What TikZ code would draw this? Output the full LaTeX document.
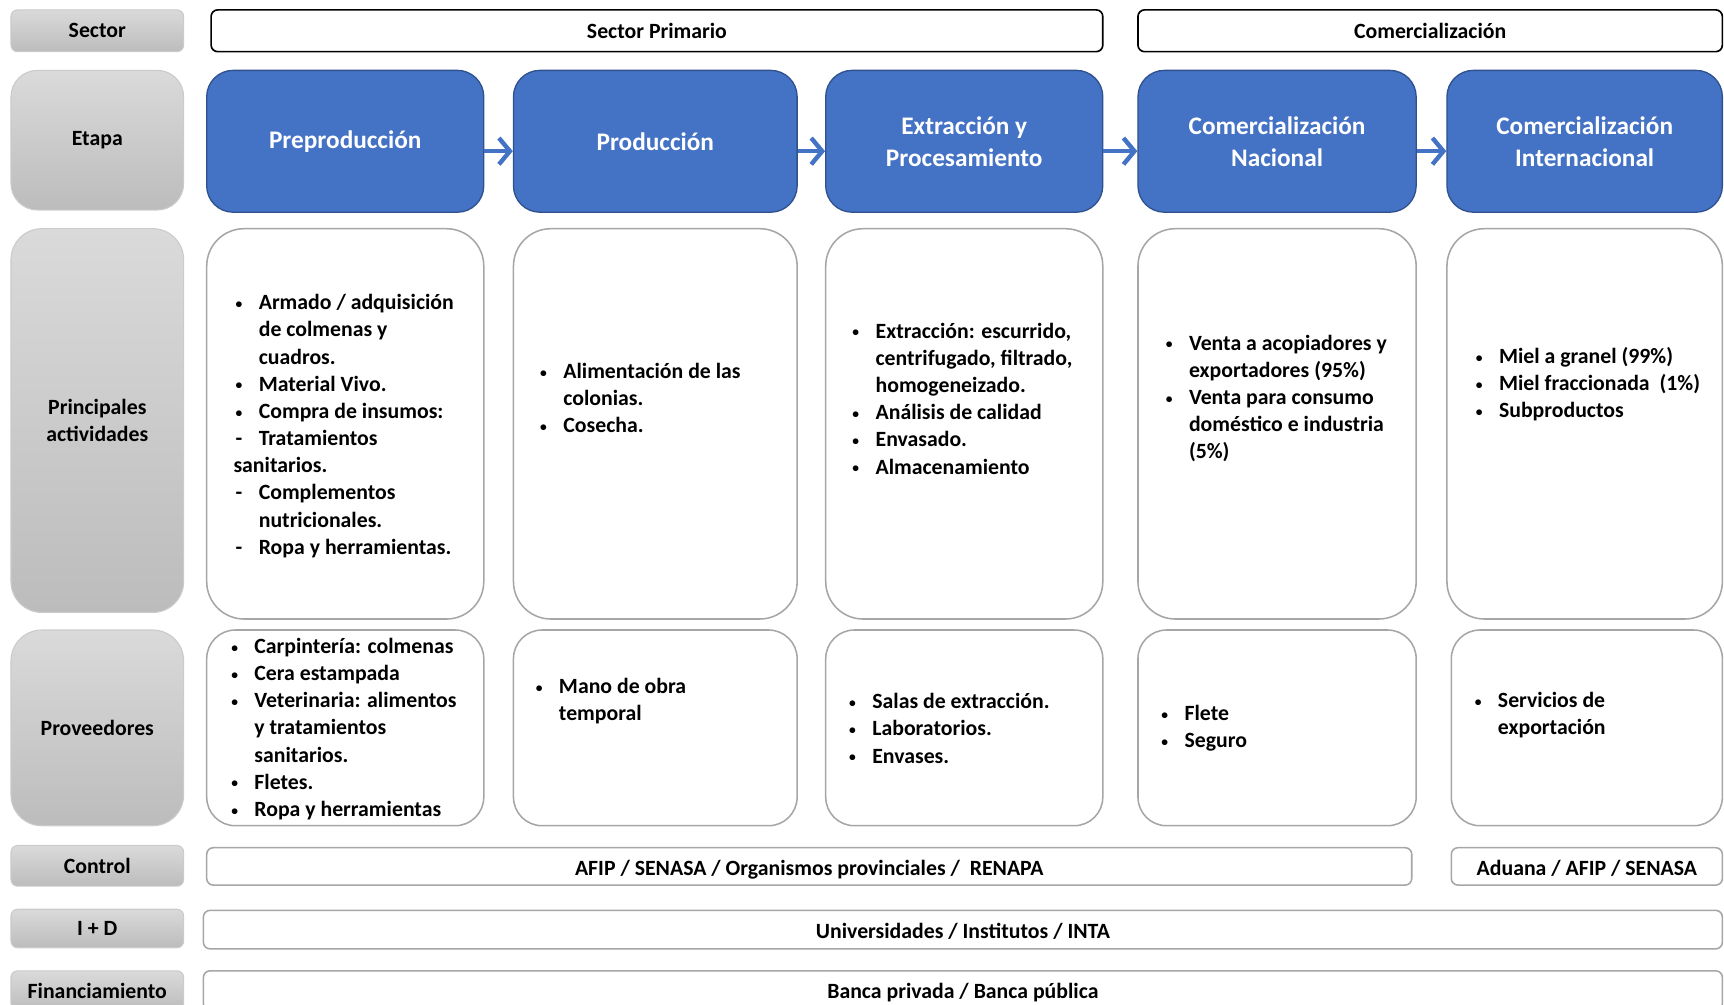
\documentclass[tikz,border=0pt]{standalone}
\usepackage{fontspec}
\usepackage{graphicx}
\setmainfont{Carlito}
\usetikzlibrary{arrows.meta}
\definecolor{blu}{HTML}{4472C4}
\definecolor{bluedge}{HTML}{2F528F}
\definecolor{boxedge}{HTML}{A6A6A6}
\definecolor{gtop}{HTML}{DADADA}
\definecolor{gbot}{HTML}{BCBCBC}
\definecolor{gedge}{HTML}{CBCBCB}
\newcommand{\bu}{\makebox[11.5pt][l]{\makebox[5pt]{\raisebox{0.6pt}{\scalebox{0.62}{•}}}}}
\newcommand{\da}{\makebox[11.5pt][l]{\makebox[5pt]{-}}}
\newcommand{\ind}{\hspace*{11.5pt}}
\newcommand{\mkbox}[7]{\node[#2, minimum width={(#5-#3)*0.5pt}, minimum height={(#6-#4)*0.5pt}] (#1) at ({(#3+#5)/2},{(#4+#6)/2}) {#7};}
\begin{document}
\begin{tikzpicture}[x=0.5pt,y=-0.5pt,
  every node/.style={font=\bfseries\fontsize{9.9pt}{12.35pt}\selectfont, text=black},
  lbl/.style={draw=gedge, line width=0.5pt, top color=gtop, bottom color=gbot, rounded corners=#1, inner sep=0pt, align=center},
  lbl/.default=3pt,
  stage/.style={draw=bluedge, line width=0.6pt, fill=blu, text=white, rounded corners=12pt, align=center, font=\bfseries\fontsize{11.5pt}{14.5pt}\selectfont},
  card/.style={draw=boxedge, line width=0.7pt, fill=white, rounded corners=#1},
  card/.default=17pt,
  sect/.style={draw=black, line width=0.75pt, fill=white, rounded corners=3pt, align=center, inner sep=0pt},
  bar/.style={draw=boxedge, line width=0.7pt, fill=white, rounded corners=3pt, align=center, inner sep=0pt, text height=#1, text depth=0.5pt},
  bar/.default=8pt,
  list/.style={anchor=west, align=left, inner sep=0pt},
  flow/.style={draw=blu, line width=2pt, -{Straight Barb[length=5pt,width=12pt]}}
]
\useasboundingbox (0,0) rectangle (1568,914);
\clip (0,0) rectangle (1568,914);

% row labels
\mkbox{lsec}{lbl}{10}{9}{167}{47}{Sector}
\mkbox{leta}{lbl=12pt}{10}{64}{167}{191}{Etapa}
\mkbox{lact}{lbl=14pt}{10}{208}{167}{557}{Principales\\actividades}
\mkbox{lpro}{lbl=14pt}{10}{573}{167}{751}{Proveedores}
\mkbox{lcon}{lbl}{10}{769}{167}{806}{Control}
\mkbox{lid}{lbl}{10}{827}{167}{862}{I + D}
\mkbox{lfin}{lbl}{10}{883}{167}{919}{Financiamiento}

% sector
\mkbox{sp}{sect}{192}{9}{1003}{47}{Sector Primario}
\mkbox{sc}{sect}{1035}{9}{1566.5}{47}{Comercialización}

% stages
\mkbox{s1}{stage}{188}{64}{440}{193}{Preproducción}
\mkbox{s2}{stage}{467}{64}{725}{193}{Producción}
\mkbox{s3}{stage}{751}{64}{1003}{193}{Extracción y\\Procesamiento}
\mkbox{s4}{stage}{1035}{64}{1288}{193}{Comercialización\\Nacional}
\mkbox{s5}{stage}{1316}{64}{1566.5}{193}{Comercialización\\Internacional}

\draw[flow] ([yshift=-4.5pt]s1.east) -- ([yshift=-4.5pt]s2.west);
\draw[flow] ([yshift=-4.5pt]s2.east) -- ([yshift=-4.5pt]s3.west);
\draw[flow] ([yshift=-4.5pt]s3.east) -- ([yshift=-4.5pt]s4.west);
\draw[flow] ([yshift=-4.5pt]s4.east) -- ([yshift=-4.5pt]s5.west);

% activities cards
\mkbox{a1}{card}{188}{208}{440}{563}{}
\mkbox{a2}{card}{467}{208}{725}{563}{}
\mkbox{a3}{card}{751}{208}{1003}{563}{}
\mkbox{a4}{card}{1035}{208}{1288}{563}{}
\mkbox{a5}{card}{1316}{208}{1566.5}{563}{}

\node[list] (ta1) at (212,387.5) {\bu Armado / adquisición\\
\ind de colmenas y\\
\ind cuadros.\\
\bu Material Vivo.\\
\bu Compra de insumos:\\
\da Tratamientos\\
sanitarios.\\
\da Complementos\\
\ind nutricionales.\\
\da Ropa y herramientas.};
\node[list] (ta2) at (489,362) {\bu Alimentación de las\\ \ind colonias.\\ \bu Cosecha.};
\node[list] (ta3) at (773,362.5) {\bu Extracción: escurrido,\\ \ind centrifugado, filtrado,\\ \ind homogeneizado.\\ \bu Análisis de calidad\\ \bu Envasado.\\ \bu Almacenamiento};
\node[list] (ta4) at (1058,362.5) {\bu Venta a acopiadores y\\ \ind exportadores (95\%)\\ \bu Venta para consumo\\ \ind doméstico e industria\\ \ind (5\%)};
\node[list] (ta5) at (1340,349.5) {\bu Miel a granel (99\%)\\ \bu Miel fraccionada~ (1\%)\\ \bu Subproductos};

% providers cards
\mkbox{p1}{card=13pt}{188}{573}{440}{751}{}
\mkbox{p2}{card=13pt}{467}{573}{725}{751}{}
\mkbox{p3}{card=13pt}{751}{573}{1003}{751}{}
\mkbox{p4}{card=13pt}{1035}{573}{1288}{751}{}
\mkbox{p5}{card=13pt}{1320}{573}{1566.5}{751}{}

\node[list] (tp1) at (208,663) {\bu Carpintería: colmenas\\ \bu Cera estampada\\ \bu Veterinaria: alimentos\\ \ind y tratamientos\\ \ind sanitarios.\\ \bu Fletes.\\ \bu Ropa y herramientas};
\node[list] (tp2) at (485,638) {\bu Mano de obra\\ \ind temporal};
\node[list] (tp3) at (770,662.5) {\bu Salas de extracción.\\ \bu Laboratorios.\\ \bu Envases.};
\node[list] (tp4) at (1054,662.5) {\bu Flete\\ \bu Seguro};
\node[list] (tp5) at (1339,650.5) {\bu Servicios de\\ \ind exportación};

% bottom bars
\mkbox{c1}{bar=9pt}{188}{771}{1284}{805}{AFIP / SENASA / Organismos provinciales /~ RENAPA}
\mkbox{c2}{bar=9pt}{1320}{771}{1566.5}{805}{Aduana / AFIP / SENASA}
\mkbox{id}{bar=8.5pt}{185}{828}{1566.5}{863}{Universidades / Institutos / INTA}
\mkbox{fin}{bar}{185}{883}{1566.5}{919}{Banca privada / Banca pública}
\end{tikzpicture}
\end{document}
